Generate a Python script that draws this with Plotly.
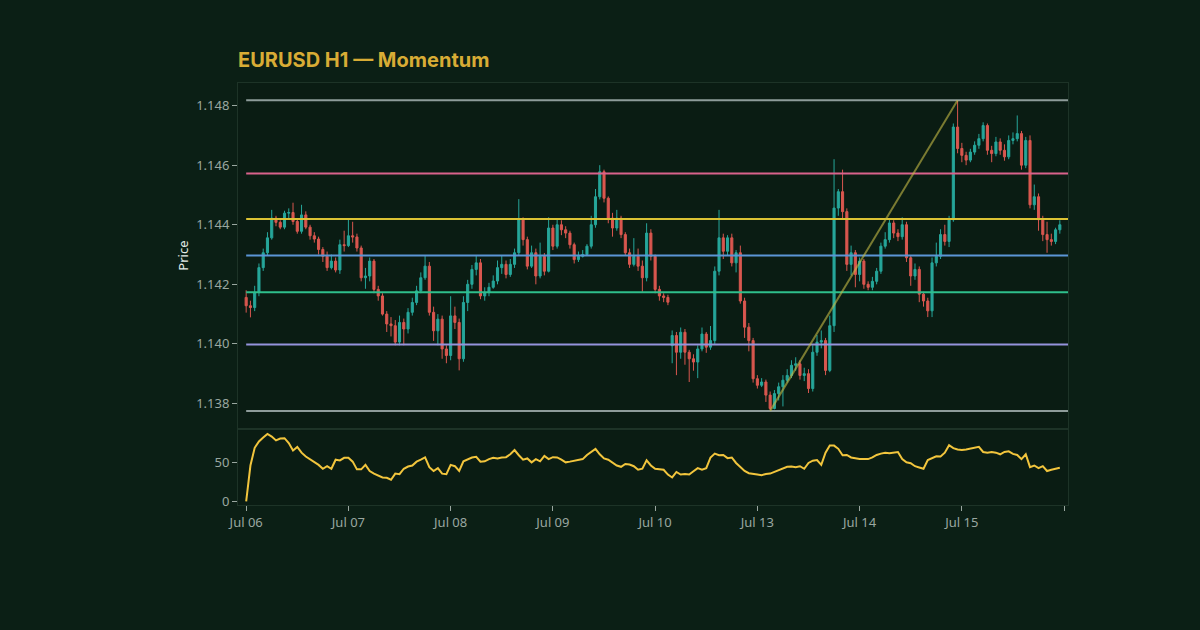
import pandas as pd
import plotly.graph_objects as go
from plotly.subplots import make_subplots

# ---- data (EURUSD H1, 6-15 Jul 2020, weekend removed) ----
trading_days = ["2020-07-06", "2020-07-07", "2020-07-08", "2020-07-09",
                "2020-07-10", "2020-07-13", "2020-07-14", "2020-07-15"]
tick_days = trading_days + ["2020-07-16"]
tick_labels = ["Jul 06", "Jul 07", "Jul 08", "Jul 09", "Jul 10",
               "Jul 13", "Jul 14", "Jul 15", ""]

opens = [
    1.14156, 1.14128, 1.14122, 1.14172, 1.14256, 1.14306, 1.14356, 1.14422, 1.14408, 1.14392, 1.14439, 1.14441,
    1.14411, 1.14378, 1.14433, 1.14392, 1.14363, 1.14352, 1.14317, 1.14294, 1.14256, 1.14278, 1.14248, 1.14333,
    1.14330, 1.14363, 1.14359, 1.14322, 1.14222, 1.14228, 1.14278, 1.14183, 1.14161, 1.14100, 1.14067, 1.14061,
    1.14006, 1.14072, 1.14050, 1.14106, 1.14139, 1.14178, 1.14222, 1.14261, 1.14106, 1.14044, 1.14083, 1.13983,
    1.13961, 1.14094, 1.14072, 1.13950, 1.14139, 1.14200, 1.14250, 1.14272, 1.14161, 1.14172, 1.14190, 1.14211,
    1.14256, 1.14267, 1.14233, 1.14267, 1.14306, 1.14417, 1.14350, 1.14261, 1.14306, 1.14228, 1.14294, 1.14244,
    1.14389, 1.14328, 1.14400, 1.14383, 1.14372, 1.14333, 1.14283, 1.14294, 1.14300, 1.14328, 1.14400, 1.14494,
    1.14578, 1.14489, 1.14422, 1.14389, 1.14422, 1.14367, 1.14306, 1.14267, 1.14294, 1.14261, 1.14222, 1.14372,
    1.14294, 1.14183, 1.14161, 1.14156, 1.13994, 1.14028, 1.13972, 1.14039, 1.13972, 1.13950, 1.13939, 1.13983,
    1.14033, 1.13989, 1.14011, 1.14244, 1.14356, 1.14311, 1.14356, 1.14272, 1.14306, 1.14144, 1.14056, 1.14011,
    1.13883, 1.13861, 1.13872, 1.13828, 1.13783, 1.13833, 1.13856, 1.13878, 1.13894, 1.13928, 1.13933, 1.13894,
    1.13900, 1.13850, 1.13972, 1.14006, 1.14011, 1.13911, 1.14061, 1.14456, 1.14511, 1.14444, 1.14267, 1.14306,
    1.14233, 1.14278, 1.14200, 1.14190, 1.14210, 1.14244, 1.14328, 1.14350, 1.14406, 1.14372, 1.14360, 1.14400,
    1.14289, 1.14228, 1.14250, 1.14167, 1.14144, 1.14111, 1.14272, 1.14294, 1.14367, 1.14344, 1.14417,
    1.14728, 1.14656, 1.14633, 1.14617, 1.14644, 1.14667, 1.14689, 1.14733, 1.14650, 1.14639, 1.14678, 1.14650,
    1.14628, 1.14683, 1.14689, 1.14706, 1.14600, 1.14683, 1.14467, 1.14494, 1.14417, 1.14367, 1.14350, 1.14344, 1.14383,
]
highs = [
    1.14180, 1.14145, 1.14195, 1.14270, 1.14320, 1.14375, 1.14450, 1.14430, 1.14415, 1.14447, 1.14455, 1.14474,
    1.14420, 1.14467, 1.14445, 1.14400, 1.14375, 1.14360, 1.14325, 1.14310, 1.14300, 1.14290, 1.14350, 1.14380,
    1.14420, 1.14410, 1.14370, 1.14330, 1.14255, 1.14290, 1.14285, 1.14195, 1.14170, 1.14110, 1.14090, 1.14080,
    1.14095, 1.14085, 1.14120, 1.14155, 1.14195, 1.14240, 1.14295, 1.14275, 1.14125, 1.14100, 1.14095, 1.13995,
    1.14160, 1.14125, 1.14085, 1.14160, 1.14215, 1.14265, 1.14295, 1.14285, 1.14190, 1.14205, 1.14230, 1.14280,
    1.14295, 1.14280, 1.14285, 1.14320, 1.14486, 1.14425, 1.14360, 1.14330, 1.14320, 1.14340, 1.14305, 1.14425,
    1.14400, 1.14420, 1.14415, 1.14395, 1.14380, 1.14340, 1.14310, 1.14315, 1.14335, 1.14430, 1.14520, 1.14600,
    1.14585, 1.14495, 1.14440, 1.14450, 1.14430, 1.14375, 1.14320, 1.14355, 1.14320, 1.14280, 1.14405, 1.14385,
    1.14300, 1.14195, 1.14170, 1.14165, 1.14045, 1.14040, 1.14055, 1.14050, 1.13980, 1.13965, 1.13995, 1.14055,
    1.14040, 1.14060, 1.14260, 1.14450, 1.14370, 1.14365, 1.14370, 1.14315, 1.14330, 1.14155, 1.14070, 1.14020,
    1.13895, 1.13885, 1.13880, 1.13840, 1.13845, 1.13870, 1.13895, 1.13915, 1.13945, 1.13955, 1.13945, 1.13920,
    1.13915, 1.13995, 1.14030, 1.14045, 1.14020, 1.14095, 1.14620, 1.14520, 1.14585, 1.14455, 1.14330, 1.14315,
    1.14290, 1.14285, 1.14210, 1.14225, 1.14255, 1.14340, 1.14375, 1.14420, 1.14415, 1.14385, 1.14425, 1.14410,
    1.14295, 1.14270, 1.14260, 1.14175, 1.14155, 1.14290, 1.14340, 1.14385, 1.14400, 1.14430, 1.14740,
    1.14818, 1.14675, 1.14645, 1.14655, 1.14680, 1.14705, 1.14744, 1.14740, 1.14665, 1.14695, 1.14690, 1.14670,
    1.14700, 1.14710, 1.14767, 1.14715, 1.14695, 1.14700, 1.14535, 1.14505, 1.14430, 1.14410, 1.14370, 1.14390, 1.14415,
]
lows = [
    1.14105, 1.14089, 1.14110, 1.14160, 1.14245, 1.14295, 1.14350, 1.14395, 1.14385, 1.14385, 1.14420, 1.14400,
    1.14370, 1.14370, 1.14385, 1.14350, 1.14340, 1.14300, 1.14275, 1.14245, 1.14250, 1.14240, 1.14235, 1.14310,
    1.14325, 1.14340, 1.14310, 1.14210, 1.14185, 1.14210, 1.14170, 1.14145, 1.14095, 1.14040, 1.14025, 1.13995,
    1.13995, 1.13995, 1.14035, 1.14095, 1.14130, 1.14170, 1.14215, 1.14095, 1.14010, 1.13995, 1.13950, 1.13935,
    1.13945, 1.14050, 1.13911, 1.13940, 1.14110, 1.14185, 1.14230, 1.14150, 1.14145, 1.14160, 1.14185, 1.14200,
    1.14235, 1.14220, 1.14225, 1.14255, 1.14295, 1.14330, 1.14250, 1.14255, 1.14200, 1.14220, 1.14230, 1.14240,
    1.14315, 1.14320, 1.14365, 1.14355, 1.14320, 1.14270, 1.14275, 1.14290, 1.14295, 1.14320, 1.14390, 1.14485,
    1.14475, 1.14405, 1.14360, 1.14380, 1.14355, 1.14295, 1.14255, 1.14260, 1.14245, 1.14175, 1.14210, 1.14280,
    1.14170, 1.14145, 1.14140, 1.14130, 1.13935, 1.13895, 1.13950, 1.13930, 1.13872, 1.13910, 1.13885, 1.13975,
    1.13970, 1.13980, 1.14000, 1.14230, 1.14285, 1.14295, 1.14260, 1.14240, 1.14135, 1.14020, 1.13975, 1.13870,
    1.13850, 1.13855, 1.13805, 1.13775, 1.13780, 1.13810, 1.13790, 1.13870, 1.13885, 1.13910, 1.13880, 1.13875,
    1.13835, 1.13840, 1.13960, 1.13985, 1.13895, 1.13905, 1.14040, 1.14430, 1.14420, 1.14245, 1.14230, 1.14190,
    1.14210, 1.14185, 1.14180, 1.14180, 1.14200, 1.14235, 1.14320, 1.14340, 1.14355, 1.14345, 1.14350, 1.14275,
    1.14195, 1.14215, 1.14140, 1.14125, 1.14090, 1.14090, 1.14260, 1.14285, 1.14330, 1.14325, 1.14410,
    1.14640, 1.14610, 1.14600, 1.14610, 1.14635, 1.14655, 1.14680, 1.14635, 1.14610, 1.14630, 1.14635, 1.14615,
    1.14620, 1.14670, 1.14680, 1.14585, 1.14590, 1.14455, 1.14450, 1.14380, 1.14345, 1.14306, 1.14330, 1.14335, 1.14370,
]
closes = [
    1.14128, 1.14122, 1.14172, 1.14256, 1.14306, 1.14356, 1.14422, 1.14408, 1.14392, 1.14439, 1.14441, 1.14411,
    1.14378, 1.14433, 1.14392, 1.14363, 1.14352, 1.14317, 1.14294, 1.14256, 1.14278, 1.14248, 1.14333, 1.14330,
    1.14363, 1.14359, 1.14322, 1.14222, 1.14228, 1.14278, 1.14183, 1.14161, 1.14100, 1.14067, 1.14061, 1.14006,
    1.14072, 1.14050, 1.14106, 1.14139, 1.14178, 1.14222, 1.14261, 1.14106, 1.14044, 1.14083, 1.13983, 1.13961,
    1.14094, 1.14072, 1.13950, 1.14139, 1.14200, 1.14250, 1.14272, 1.14161, 1.14172, 1.14190, 1.14211, 1.14256,
    1.14267, 1.14233, 1.14267, 1.14306, 1.14417, 1.14350, 1.14261, 1.14306, 1.14228, 1.14294, 1.14244, 1.14389,
    1.14328, 1.14400, 1.14383, 1.14372, 1.14333, 1.14283, 1.14294, 1.14300, 1.14328, 1.14400, 1.14494, 1.14578,
    1.14489, 1.14422, 1.14389, 1.14422, 1.14367, 1.14306, 1.14267, 1.14294, 1.14261, 1.14222, 1.14372, 1.14294,
    1.14183, 1.14161, 1.14156, 1.14140, 1.14028, 1.13972, 1.14039, 1.13972, 1.13950, 1.13939, 1.13983, 1.14033,
    1.13989, 1.14011, 1.14244, 1.14356, 1.14311, 1.14356, 1.14272, 1.14306, 1.14144, 1.14056, 1.14011, 1.13883,
    1.13861, 1.13872, 1.13828, 1.13783, 1.13833, 1.13856, 1.13878, 1.13894, 1.13928, 1.13933, 1.13894, 1.13900,
    1.13850, 1.13972, 1.14006, 1.14011, 1.13911, 1.14061, 1.14456, 1.14511, 1.14444, 1.14267, 1.14306, 1.14233,
    1.14278, 1.14200, 1.14190, 1.14210, 1.14244, 1.14328, 1.14350, 1.14406, 1.14372, 1.14360, 1.14400, 1.14289,
    1.14228, 1.14250, 1.14167, 1.14144, 1.14111, 1.14272, 1.14294, 1.14367, 1.14344, 1.14417, 1.14728,
    1.14656, 1.14633, 1.14617, 1.14644, 1.14667, 1.14689, 1.14733, 1.14650, 1.14639, 1.14678, 1.14650, 1.14628,
    1.14683, 1.14689, 1.14706, 1.14600, 1.14683, 1.14467, 1.14494, 1.14417, 1.14367, 1.14350, 1.14344, 1.14383, 1.14400,
]
momentum = [
    0.0, 46.3, 69.2, 77.5, 82.5, 87.1, 83.8, 78.8, 81.3, 81.7, 75.4, 65.8,
    70.4, 62.9, 57.9, 54.6, 51.3, 47.1, 42.1, 45.4, 42.1, 53.8, 52.9, 56.3,
    56.3, 51.3, 41.3, 41.3, 47.1, 39.2, 35.8, 33.8, 30.8, 30.4, 27.9, 35.8,
    35.0, 42.1, 45.0, 46.3, 51.3, 53.8, 56.7, 44.2, 39.2, 42.9, 35.8, 35.0,
    47.1, 45.4, 39.2, 51.7, 54.6, 56.7, 57.5, 51.3, 51.7, 54.6, 56.3, 55.4,
    56.7, 57.1, 60.8, 66.3, 59.6, 53.8, 55.4, 50.4, 54.6, 51.7, 58.8, 54.6,
    57.1, 56.7, 53.8, 50.4, 51.3, 52.5, 53.8, 54.6, 60.0, 64.2, 67.9, 60.8,
    55.4, 53.8, 50.4, 46.3, 44.6, 48.3, 47.5, 45.4, 40.8, 42.1, 52.9, 46.3,
    42.1, 41.3, 40.8, 34.6, 30.8, 37.9, 34.6, 35.4, 34.6, 38.8, 42.9, 40.8,
    42.9, 56.7, 61.7, 59.6, 60.0, 55.8, 56.7, 49.6, 44.2, 39.2, 36.3, 35.8,
    34.6, 33.8, 35.4, 35.8, 37.9, 40.4, 42.9, 44.6, 45.0, 44.2, 45.4, 42.1,
    49.6, 52.5, 53.3, 47.1, 62.9, 72.1, 72.1, 67.9, 59.6, 60.0, 56.7, 55.4,
    54.6, 54.6, 54.6, 56.7, 60.0, 61.7, 62.9, 62.1, 62.9, 63.8, 54.6, 50.4,
    49.2, 45.4, 43.8, 42.1, 53.3, 55.4, 58.3, 57.9, 62.9, 72.5, 68.8, 67.1,
    66.3, 67.1, 67.9, 69.2, 70.4, 63.8, 62.9, 63.8, 62.9, 60.8, 63.8, 64.6,
    61.3, 60.0, 54.6, 60.8, 44.2, 46.3, 42.9, 45.4, 39.2, 40.8, 42.1, 43.3,
]

fib_ratios = [0.0, 0.236, 0.382, 0.5, 0.618, 0.786, 1.0]
fib_colors = ["#8e9c9a", "#d9628c", "#dcc234", "#5b95d6", "#2fbf8c", "#9593dc", "#8e9c9a"]

# hourly timestamps for each trading day
times = [pd.Timestamp(d) + pd.Timedelta(hours=h) for d in trading_days for h in range(24)]
df = pd.DataFrame({"open": opens, "high": highs, "low": lows, "close": closes,
                   "momentum": momentum}, index=times)

swing_high = df["high"].max()
swing_low = df["low"].min()
t_high = df["high"].idxmax()
t_low = df["low"].idxmin()

BG = "#0b1f15"
AXIS = "#1d3327"
TICK = "#9aa7a0"
FONT = "Noto Sans"

x_start = "2020-07-05 22:05"
x_end = "2020-07-16 00:55"

fig = make_subplots(rows=2, cols=1, shared_xaxes=True,
                    row_heights=[0.822, 0.178], vertical_spacing=0.005)

fig.add_trace(go.Candlestick(
    x=df.index, open=df["open"], high=df["high"], low=df["low"], close=df["close"],
    increasing=dict(line=dict(color="#26a69a", width=1), fillcolor="#26a69a"),
    decreasing=dict(line=dict(color="#d9574f", width=1), fillcolor="#d9574f"),
    whiskerwidth=0, showlegend=False, name="EURUSD",
), row=1, col=1)

fig.add_trace(go.Scatter(
    x=df.index, y=df["momentum"], mode="lines",
    line=dict(color="#f2c53d", width=2), showlegend=False, name="Momentum",
), row=2, col=1)

# fibonacci retracement levels
for ratio, col in zip(fib_ratios, fib_colors):
    level = swing_high - ratio * (swing_high - swing_low)
    fig.add_shape(type="line", xref="x", yref="y",
                  x0=df.index[0], x1=x_end, y0=level, y1=level,
                  line=dict(color=col, width=2))

# swing trend line low -> high
fig.add_shape(type="line", xref="x", yref="y",
              x0=t_low, y0=swing_low, x1=t_high, y1=swing_high,
              line=dict(color="rgba(196,186,70,0.6)", width=2))

axis_common = dict(
    showgrid=False, zeroline=False, showline=True, mirror=True,
    linecolor=AXIS, linewidth=1,
    ticks="outside", ticklen=5, tickcolor=TICK,
    tickfont=dict(family=FONT, size=13, color=TICK),
)

fig.update_xaxes(
    **axis_common,
    range=[x_start, x_end],
    rangebreaks=[dict(values=["2020-07-11"], dvalue=2 * 86400000)],
    tickvals=tick_days, ticktext=tick_labels,
    rangeslider_visible=False,
)
fig.update_xaxes(showticklabels=False, ticks="", row=1, col=1)

fig.update_yaxes(**axis_common)
fig.update_yaxes(tickformat=".3f", dtick=0.002,
                 title=dict(text="Price", font=dict(family=FONT, size=13, color="#e6ece8"),
                            standoff=4),
                 row=1, col=1)
fig.update_yaxes(tickvals=[0, 50], row=2, col=1)

fig.update_layout(
    width=1200, height=630,
    paper_bgcolor=BG, plot_bgcolor="#0a1c13",
    margin=dict(l=238, r=132, t=83, b=125),
    title=dict(text="<b>EURUSD H1 — Momentum</b>", x=0, xref="paper", xanchor="left",
               y=1 - 60 / 630, yref="container", yanchor="middle",
               font=dict(family="Inter", size=20, color="#d8ac35")),
    font=dict(family=FONT, color=TICK),
    showlegend=False,
)

# drop the default page margin so the figure sits at the window origin
fig.write_html("out.html",
               config={"displayModeBar": False},
               post_script="document.body.style.margin='0';"
                           "document.body.style.background='" + BG + "';")
